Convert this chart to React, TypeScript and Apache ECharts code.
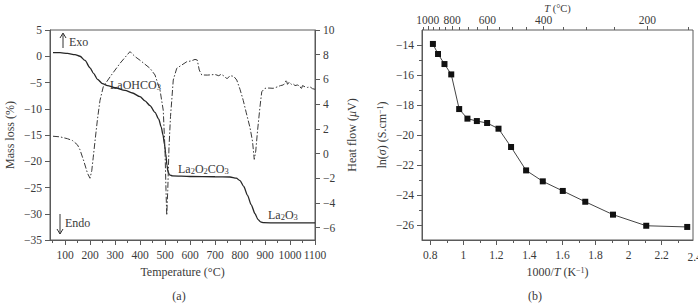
import React, { useEffect, useRef } from "react";
import * as echarts from "echarts";

// (a) TG / DTA of the lanthanum hydroxycarbonate precursor
const massTemp = [52, 80, 110, 140, 160, 180, 200, 215, 230, 250, 270, 300, 340, 370, 400, 420, 440, 460, 475, 485, 492, 498, 503, 508, 512, 518, 530, 600, 700, 760, 785, 800, 815, 830, 845, 860, 872, 882, 895, 950, 1100];
const massLoss = [0.7, 0.68, 0.55, 0.3, 0.0, -0.8, -2.2, -3.3, -4.4, -5.2, -5.6, -6.0, -6.5, -7.0, -7.7, -8.5, -9.4, -10.7, -12.0, -13.5, -15.0, -16.8, -18.6, -20.8, -22.0, -22.6, -22.8, -22.9, -22.95, -23.0, -23.2, -23.7, -24.8, -26.5, -28.3, -30.0, -31.1, -31.55, -31.7, -31.75, -31.75];

const heatTemp = [52, 80, 110, 130, 150, 160, 175, 190, 200, 207, 213, 220, 230, 240, 253, 280, 320, 345, 360, 380, 400, 440, 460, 480, 493, 500, 504, 507, 511, 516, 522, 527, 533, 547, 587, 605, 620, 629, 637, 647, 670, 700, 715, 725, 740, 748, 760, 775, 787, 800, 813, 825, 840, 850, 857, 863, 870, 880, 887, 893, 900, 915, 933, 950, 962, 973, 980, 985, 990, 997, 1005, 1012, 1020, 1030, 1040, 1045, 1050, 1060, 1070, 1080, 1090, 1100];
const heatFlow = [1.4, 1.35, 1.2, 1.05, 0.7, 0.3, -0.6, -1.6, -2.0, -1.4, -0.3, 1.0, 2.8, 4.3, 5.4, 6.2, 7.3, 7.9, 8.25, 7.85, 7.55, 6.9, 6.36, 5.14, 3.5, 0.3, -3.0, -5.0, -3.0, 0.5, 3.0, 4.3, 5.95, 6.9, 7.43, 7.5, 7.62, 7.57, 6.76, 6.36, 6.35, 6.4, 6.3, 6.42, 6.22, 6.05, 6.3, 6.25, 5.95, 5.2, 4.3, 3.3, 2.1, 1.0, -0.47, 0.2, 1.8, 3.8, 5.0, 5.14, 5.28, 5.3, 5.28, 5.4, 5.5, 5.55, 5.7, 5.95, 5.6, 5.78, 5.6, 5.65, 5.5, 5.55, 5.45, 5.2, 5.5, 5.4, 5.35, 5.4, 5.25, 5.2];

// (b) Arrhenius plot of the conductivity
const invTemp = [0.816, 0.847, 0.886, 0.927, 0.975, 1.025, 1.082, 1.144, 1.213, 1.289, 1.38, 1.481, 1.602, 1.738, 1.906, 2.107, 2.355];
const lnSigma = [-13.93, -14.6, -15.27, -15.96, -18.27, -18.91, -19.07, -19.2, -19.58, -20.8, -22.36, -23.09, -23.73, -24.45, -25.31, -26.05, -26.13];

// tick labels
const tempTicks = [100, 200, 300, 400, 500, 600, 700, 800, 900, 1000, 1100];
const tempMinorTicks = [50, 150, 250, 350, 450, 550, 650, 750, 850, 950, 1050];
const heatTicks = [-6, -4, -2, 0, 2, 4, 6, 8, 10];
const invTicks = [0.8, 1, 1.2, 1.4, 1.6, 1.8, 2, 2.2];
const invMinorTicks = [0.9, 1.1, 1.3, 1.5, 1.7, 1.9, 2.1, 2.3];
const lnTicks = [-26, -24, -22, -20, -18, -16, -14];
const lnMinorTicks = [-25, -23, -21, -19, -17, -15];
const topTempTicks = [1000, 800, 600, 400, 200];
const topTempMinorTicks = [1050, 950, 900, 850, 750, 700, 650, 550, 500, 450, 350, 300, 250, 150];

const FONT = "'Liberation Serif', 'DejaVu Serif', serif";
const TXT = "#3a3a3a";
const AX = "#5a5a5a";

const toInv = (t: number) => 1000 / (t + 273.15);
const plain = (v: number) => String(v).replace("-", "\u2212");

const tickText = { color: TXT, fontFamily: FONT, fontSize: 11.5 };
const nameText = { color: TXT, fontFamily: FONT, fontSize: 12 };
const richStyles = {
  i: { color: TXT, fontFamily: FONT, fontSize: 12, fontStyle: "italic" },
  sup: { color: TXT, fontFamily: FONT, fontSize: 8, verticalAlign: "top", lineHeight: 8 },
  n: { color: TXT, fontFamily: FONT, fontSize: 12 },
};
const topNameRich = {
  i: { color: TXT, fontFamily: FONT, fontSize: 10.5, fontStyle: "italic", lineHeight: 11 },
};
const axLine = { color: AX, width: 1 };

function majorAxis(extra: any) {
  return {
    type: "value",
    axisLine: { show: true, onZero: false, lineStyle: axLine },
    axisTick: { show: true, inside: false, length: 5, lineStyle: axLine },
    axisLabel: { ...tickText, margin: 8, formatter: plain },
    splitLine: { show: false },
    ...extra,
  };
}

function minorAxis(extra: any, ticks: number[]) {
  return {
    type: "value",
    axisLine: { show: false, onZero: false },
    axisTick: { show: true, inside: false, length: 3, customValues: ticks, lineStyle: axLine },
    axisLabel: { show: false },
    splitLine: { show: false },
    ...extra,
  };
}

export default function App() {
  const ref = useRef<HTMLDivElement>(null);

  useEffect(() => {
    if (!ref.current) return;
    const chart = echarts.init(ref.current, undefined, { renderer: "svg" });

    const option: any = {
      animation: false,
      backgroundColor: "#ffffff",
      grid: [
        { left: 50, top: 30, width: 265, height: 210, show: true, borderColor: AX, borderWidth: 1, backgroundColor: "transparent", containLabel: false, outerBoundsMode: "none" },
        { left: 422, top: 30, width: 271, height: 210, show: true, borderColor: AX, borderWidth: 1, backgroundColor: "transparent", containLabel: false, outerBoundsMode: "none" },
      ],
      xAxis: [
        majorAxis({
          gridIndex: 0, position: "bottom", min: 40, max: 1100,
          axisTick: { show: true, length: 5, customValues: tempTicks, lineStyle: axLine },
          axisLabel: { ...tickText, margin: 9, customValues: tempTicks, formatter: plain },
          name: "Temperature (°C)", nameLocation: "middle", nameGap: 26, nameTextStyle: nameText,
        }),
        minorAxis({ gridIndex: 0, position: "bottom", min: 40, max: 1100 }, tempMinorTicks),
        majorAxis({
          gridIndex: 1, position: "bottom", min: 0.75, max: 2.39,
          axisTick: { show: true, length: 5, customValues: invTicks, lineStyle: axLine },
          axisLabel: { ...tickText, margin: 9, customValues: invTicks, formatter: plain },
          name: "1000/{i|T} (K{sup|\u22121})", nameLocation: "middle", nameGap: 26,
          nameTextStyle: { ...nameText, rich: richStyles },
        }),
        minorAxis({ gridIndex: 1, position: "bottom", min: 0.75, max: 2.39 }, invMinorTicks),
        majorAxis({
          gridIndex: 1, position: "top", min: 0.75, max: 2.39,
          axisLine: { show: false, onZero: false },
          axisTick: { show: true, length: 4, customValues: topTempTicks.map(toInv), lineStyle: axLine },
          axisLabel: {
            ...tickText, margin: 4, customValues: topTempTicks.map(toInv),
            formatter: (v: number) => String(Math.round(1000 / v - 273.15)),
          },
          name: "{i|T} (°C)", nameLocation: "middle", nameGap: 16, nameMoveOverlap: false,
          nameTextStyle: { ...nameText, fontSize: 10.5, lineHeight: 11, rich: topNameRich },
        }),
        minorAxis({ gridIndex: 1, position: "top", min: 0.75, max: 2.39 }, topTempMinorTicks.map(toInv)),
      ],
      yAxis: [
        majorAxis({
          gridIndex: 0, position: "left", min: -35, max: 5, interval: 5,
          name: "Mass loss (%)", nameLocation: "middle", nameGap: 34, nameRotate: 90, nameTextStyle: nameText,
        }),
        majorAxis({
          gridIndex: 0, position: "right", min: -7, max: 10,
          axisTick: { show: true, length: 5, customValues: heatTicks, lineStyle: axLine },
          axisLabel: { ...tickText, margin: 8, customValues: heatTicks, formatter: plain },
          name: "Heat flow ({i|\u03bc}V)", nameLocation: "middle", nameGap: 31, nameRotate: 90,
          nameTextStyle: { ...nameText, rich: richStyles },
        }),
        majorAxis({
          gridIndex: 1, position: "left", min: -27, max: -13,
          axisTick: { show: true, length: 5, customValues: lnTicks, lineStyle: axLine },
          axisLabel: { ...tickText, margin: 8, customValues: lnTicks, formatter: plain },
          name: "ln({i|\u03c3}) (S.cm{sup|\u22121})", nameLocation: "middle", nameGap: 34, nameRotate: 90,
          nameTextStyle: { ...nameText, rich: richStyles },
        }),
        minorAxis({ gridIndex: 1, position: "left", min: -27, max: -13 }, lnMinorTicks),
      ],
      series: [
        {
          type: "line", xAxisIndex: 0, yAxisIndex: 0, showSymbol: false, symbol: "none",
          smooth: 0.25, smoothMonotone: "x",
          lineStyle: { color: "#262626", width: 1.3 },
          data: massTemp.map((t, i) => [t, massLoss[i]]),
        },
        {
          type: "line", xAxisIndex: 0, yAxisIndex: 1, showSymbol: false, symbol: "none",
          lineStyle: { color: "#3a3a3a", width: 1, type: [6, 2, 1.5, 2] },
          data: heatTemp.map((t, i) => [t, heatFlow[i]]),
        },
        {
          type: "line", xAxisIndex: 2, yAxisIndex: 2, symbol: "rect", symbolSize: 6,
          itemStyle: { color: "#111111" },
          lineStyle: { color: "#444444", width: 1 },
          data: invTemp.map((x, i) => [x, lnSigma[i]]),
        },
      ],
    };
    chart.setOption(option);

    // the 2.4 label sits just past the plotted range, at the window's edge
    const x24 = chart.convertToPixel({ xAxisIndex: 2 }, 2.4) as number;
    const labelStyle = { fill: TXT, fontFamily: FONT, fontSize: 12 };
    const sub = { fill: TXT, fontFamily: FONT, fontSize: 8.5, verticalAlign: "bottom", lineHeight: 6 };
    const chem = (text: string, x: number, y: number) => ({
      type: "text", x, y,
      style: { text, ...labelStyle, align: "left", verticalAlign: "middle", rich: { n: labelStyle, s: sub } },
    });

    chart.setOption({
      graphic: {
        elements: [
          { type: "text", x: x24, y: 257, style: { text: "2.4", fill: TXT, fontFamily: FONT, fontSize: 11.5, align: "center", verticalAlign: "middle" } },
          // Exo / Endo arrows
          { type: "line", shape: { x1: 63, y1: 34, x2: 63, y2: 48 }, style: { stroke: "#333", lineWidth: 1 } },
          { type: "polyline", shape: { points: [[60, 38], [63, 33], [66, 38]] }, style: { stroke: "#333", lineWidth: 1, fill: "none" } },
          { type: "text", x: 69, y: 42, style: { text: "Exo", ...labelStyle, align: "left", verticalAlign: "middle" } },
          { type: "line", shape: { x1: 60, y1: 214, x2: 60, y2: 234 }, style: { stroke: "#333", lineWidth: 1 } },
          { type: "polyline", shape: { points: [[57, 229], [60, 234], [63, 229]] }, style: { stroke: "#333", lineWidth: 1, fill: "none" } },
          { type: "text", x: 65, y: 223, style: { text: "Endo", ...labelStyle, align: "left", verticalAlign: "middle" } },
          // phase labels
          chem("{n|LaOHCO}{s|3}", 110, 85),
          chem("{n|La}{s|2}{n|O}{s|2}{n|CO}{s|3}", 178, 169),
          chem("{n|La}{s|2}{n|O}{s|3}", 268, 215),
          // panel captions
          { type: "text", x: 179, y: 296, style: { text: "(a)", ...labelStyle, align: "center", verticalAlign: "middle" } },
          { type: "text", x: 535, y: 296, style: { text: "(b)", ...labelStyle, align: "center", verticalAlign: "middle" } },
        ],
      },
    });

    return () => chart.dispose();
  }, []);

  return (
    <div
      ref={ref}
      style={{ position: "absolute", left: 0, top: 0, width: 698, height: 305 }}
    />
  );
}
